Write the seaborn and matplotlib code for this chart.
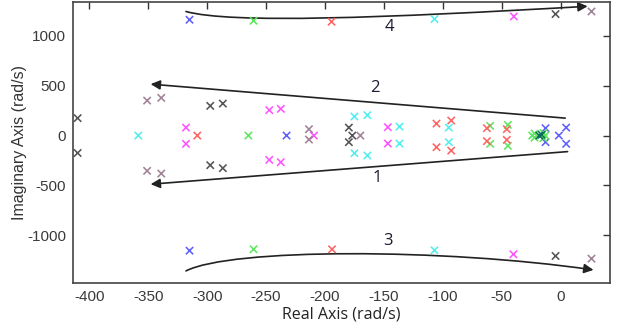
import matplotlib
matplotlib.use("Agg")
import matplotlib.pyplot as plt
import seaborn as sns
import pandas as pd
from matplotlib.path import Path
from matplotlib.patches import FancyArrowPatch

# ---- data ----
blue_re = [-315, -315, -232.6, -12.7, -12.7, -1.4, 4.8, 4.8]
blue_im = [1162, -1155, 0, 74, -66, 0, 80, -83]
green_re = [-260.6, -260.6, -265, -59.7, -59.7, -44.7, -44.7, -22, -22, -14.5, -14.5, -24, -13]
green_im = [1152, -1141, 0, 97, -83, 107, -103, 20, -20, 25, -25, 0, 0]
red_re = [-194.4, -194, -308.4, -105.3, -105.3, -92.8, -92.8, -62.5, -62.5, -45.6, -45.6]
red_im = [1142, -1141, 0, 120, -117, 151, -151, 74, -56, 64, -43]
cyan_re = [-107, -107, -358.5, -175, -175, -164, -164, -136.7, -136.7, -94.8, -94.8]
cyan_im = [1169, -1151, 0, 191, -177, 205, -200, 90, -80, 80, -66]
magenta_re = [-39.6, -40, -318, -318, -247.3, -247.3, -237.5, -237.5, -209.4, -146.6, -146.6]
magenta_im = [1195, -1191, 80, -83, 255, -244, 268, -267, 0, 84, -80]
gray_re = [-4.2, -4.2, -410, -410, -297.4, -297.4, -286.7, -286.7, -179.7, -179.7, -176.8]
gray_im = [1219, -1208, 175, -175, 298, -297, 321, -327, 80, -66, 0]
mauve_re = [26.3, 26.3, -351, -351, -339, -339, -213.6, -213.6, -170]
mauve_im = [1245, -1235, 351, -354, 378, -381, 64, -40, 0]
teal_re = [-18, -16]
teal_im = [0, 8]

groups = {
    "blue": (blue_re, blue_im, "#6060ff"),
    "green": (green_re, green_im, "#5ee65e"),
    "red": (red_re, red_im, "#ff6464"),
    "cyan": (cyan_re, cyan_im, "#55eeee"),
    "magenta": (magenta_re, magenta_im, "#ff55ff"),
    "gray": (gray_re, gray_im, "#555555"),
    "mauve": (mauve_re, mauve_im, "#a08296"),
    "teal": (teal_re, teal_im, "#0a6e55"),
}

xticks = [-400, -350, -300, -250, -200, -150, -100, -50, 0]
yticks = [-1000, -500, 0, 500, 1000]

rows = []
for name, (re, im, _) in groups.items():
    for a, b in zip(re, im):
        rows.append({"re": a, "im": b, "grp": name})
df = pd.DataFrame(rows)
palette = {k: v[2] for k, v in groups.items()}

sns.set_style("white")
fig = plt.figure(figsize=(6.18, 3.35), dpi=100)
ax = fig.add_axes([0.118, 0.155, 0.869, 0.839])

sns.scatterplot(data=df, x="re", y="im", hue="grp", palette=palette, marker="x",
                s=28, linewidth=1.15, legend=False, ax=ax, zorder=3)

ax.set_xlim(-414, 42)
ax.set_ylim(-1480, 1340)
ax.set_xticks(xticks)
ax.set_yticks(yticks)
tick_font = ["Liberation Sans Narrow", "Liberation Sans"]
ax.set_xticklabels([str(v) for v in xticks], family=tick_font, fontsize=11, color="#3a3a3a")
ax.set_yticklabels([str(v) for v in yticks], family=tick_font, fontsize=11, color="#3a3a3a")
ax.tick_params(direction="in", length=5, width=1, top=True, right=True,
               labeltop=False, labelright=False, color="#333333", pad=5)
for s in ax.spines.values():
    s.set_color("#444444")
    s.set_linewidth(1.2)

ax.set_xlabel("Real Axis (rad/s)", family=["Open Sans", "DejaVu Sans"], fontsize=11.5,
              color="#222222", labelpad=2)
ax.set_ylabel("Imaginary Axis (rad/s)", family=tick_font, fontsize=11.5,
              color="#333333", labelpad=0)

# straight arrows 1 and 2
arrow_kw = dict(arrowstyle="-|>", color="#222222", lw=1.2, mutation_scale=14, shrinkA=0, shrinkB=0)
ax.annotate("", xy=(-348, 516), xytext=(4, 175), arrowprops=arrow_kw)
ax.annotate("", xy=(-348, -488), xytext=(6, -161), arrowprops=arrow_kw)

# curved arrows 3 and 4
top_path = Path([(-318, 1245), (-280, 1120), (-150, 1180), (23, 1297)],
                [Path.MOVETO, Path.CURVE4, Path.CURVE4, Path.CURVE4])
bot_path = Path([(-318, -1358), (-280, -1130), (-100, -1130), (28, -1348)],
                [Path.MOVETO, Path.CURVE4, Path.CURVE4, Path.CURVE4])
for p in (top_path, bot_path):
    ax.add_patch(FancyArrowPatch(path=p, arrowstyle="-|>", color="#222222", lw=1.2,
                                 mutation_scale=14, transform=ax.transData, zorder=2))

lab_font = ["Open Sans", "DejaVu Sans"]
ax.text(-158, 476, "2", fontsize=12, family=lab_font, ha="center", va="center", color="#1a1a2e")
ax.text(-156, -428, "1", fontsize=12, family=lab_font, ha="center", va="center", color="#1a1a2e")
ax.text(-145, 1088, "4", fontsize=12, family=lab_font, ha="center", va="center", color="#1a1a2e")
ax.text(-146.6, -1057, "3", fontsize=12, family=lab_font, ha="center", va="center", color="#1a1a2e")

fig.savefig("out.png", dpi=100)
